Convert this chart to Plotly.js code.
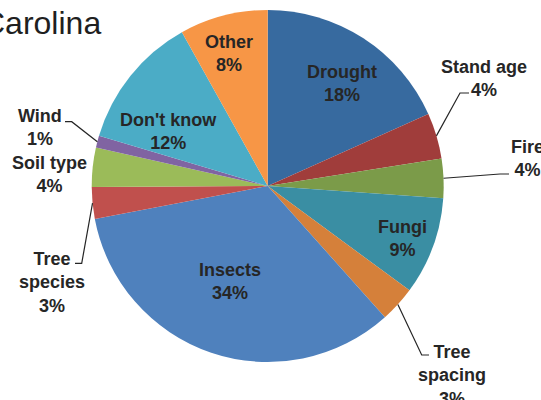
<!DOCTYPE html>
<html>
<head>
<meta charset="utf-8">
<script src="https://cdn.plot.ly/plotly-3.0.1.min.js"></script>
<style>html,body{margin:0;padding:0;background:#fff;}#chart{width:541px;height:400px;}</style>
</head>
<body>
<div id="chart"></div>
<script>
// ---- data ----
var categories = ["Drought", "Stand age", "Fire", "Fungi", "Tree spacing", "Insects",
                  "Tree species", "Soil type", "Wind", "Don't know", "Other"];
var shares = [18.3, 4.2, 3.6, 9.0, 3.3, 33.6, 2.9, 3.6, 1.1, 12.3, 8.1];
var labelLines = ["Drought", "Stand age", "Fire", "Fungi", "Tree<br>spacing", "Insects",
                  "Tree<br>species", "Soil type", "Wind", "Don't know", "Other"];
var titleText = "Carolina";

// ---- styles / layout ----
var colors = ["#376a9f", "#a03d3b", "#7b9b49", "#3a8ea3", "#d5803a", "#4f81bd",
              "#c0504d", "#9bbb59", "#8064a2", "#4bacc6", "#f79646"];
var W = 541, H = 400;
var cx = 267.7, cy = 186, R = 176;
var textColor = "#262626";
var fontFam = "Liberation Sans, Arial, sans-serif";

// label placement in pixels: [x, y of middle of block]; elbow/end for leader lines
var labelPos = [
  {x: 342, y: 84},
  {x: 484, y: 78, elbow: [460, 93], end: [469, 93]},
  {x: 527, y: 158, elbow: [500, 174], end: [509, 174]},
  {x: 402, y: 238},
  {x: 452, y: 375, elbow: [421.7, 355], end: [429, 355]},
  {x: 230, y: 281},
  {x: 52, y: 282, elbow: [81.7, 263.3], end: [75, 263.3]},
  {x: 49, y: 174},
  {x: 39.5, y: 127, elbow: [71.7, 121.7], end: [65, 121.7]},
  {x: 168, y: 131},
  {x: 229, y: 53}
];

function px(x) { return x / W; }
function py(y) { return 1 - y / H; }

var total = shares.reduce(function (a, b) { return a + b; }, 0);
var annotations = [];
var shapes = [];
var cum = 0;
for (var i = 0; i < shares.length; i++) {
  var mid = (cum + shares[i] / 2) / total * 2 * Math.PI;
  cum += shares[i];
  var lp = labelPos[i];
  var pct = Math.round(shares[i] / total * 100) + "%";
  annotations.push({
    xref: "paper", yref: "paper", x: px(lp.x), y: py(lp.y),
    xanchor: "center", yanchor: "middle", showarrow: false,
    text: "<b>" + labelLines[i] + "<br>" + pct + "</b>",
    font: {family: fontFam, size: 18, color: textColor}, align: "center"
  });
  if (lp.elbow) {
    var sx = cx + R * Math.sin(mid), sy = cy - R * Math.cos(mid);
    var path = "M " + px(sx) + " " + py(sy) + " L " + px(lp.elbow[0]) + " " + py(lp.elbow[1]) +
               " L " + px(lp.end[0]) + " " + py(lp.end[1]);
    shapes.push({type: "path", xref: "paper", yref: "paper", path: path,
                 line: {color: textColor, width: 1.2}});
  }
}

annotations.push({
  xref: "paper", yref: "paper", x: px(103), y: py(23),
  xanchor: "right", yanchor: "middle", showarrow: false,
  text: titleText, font: {family: fontFam, size: 32, color: "#1f1f1f"}
});

var trace = {
  type: "pie",
  labels: categories,
  values: shares,
  sort: false,
  direction: "clockwise",
  rotation: 0,
  textinfo: "none",
  hoverinfo: "none",
  marker: {colors: colors, line: {width: 0}},
  domain: {x: [px(cx - R), px(cx + R)], y: [py(cy + R), py(cy - R)]},
  showlegend: false
};

var layout = {
  width: W, height: H,
  margin: {l: 0, r: 0, t: 0, b: 0},
  paper_bgcolor: "#ffffff",
  showlegend: false,
  annotations: annotations,
  shapes: shapes
};

Plotly.newPlot("chart", [trace], layout, {displayModeBar: false, staticPlot: true});
</script>
</body>
</html>
